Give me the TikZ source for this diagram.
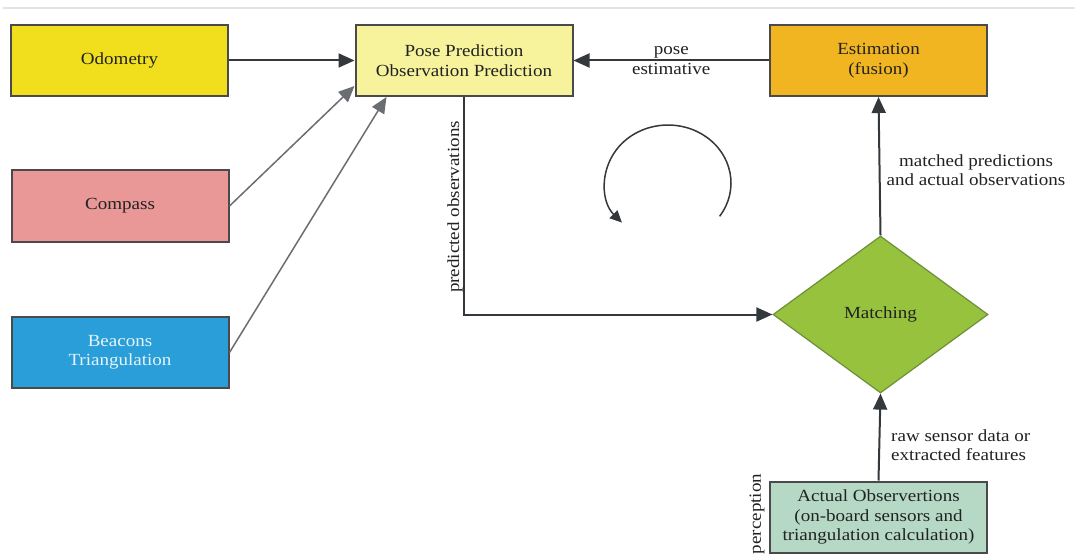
\documentclass[tikz,border=0pt]{standalone}
\usepackage{fontspec}
\setmainfont{Liberation Serif}[FakeStretch=1.12]
\usetikzlibrary{arrows.meta,shapes.geometric}

\definecolor{odo}{HTML}{F1DF1E}
\definecolor{posec}{HTML}{F6F39C}
\definecolor{estc}{HTML}{F0B520}
\definecolor{compc}{HTML}{E99797}
\definecolor{beacc}{HTML}{2A9ED8}
\definecolor{beactxt}{HTML}{E6F3F9}
\definecolor{matchc}{HTML}{97C23E}
\definecolor{matchedge}{HTML}{6E8F3A}
\definecolor{actc}{HTML}{B6D9C5}
\definecolor{edge}{HTML}{4A4A4A}
\definecolor{wire}{HTML}{33383D}
\definecolor{wiretwo}{HTML}{6A6E72}
\definecolor{txt}{HTML}{222222}
\definecolor{rulec}{HTML}{E2E2E2}

\begin{document}
\begin{tikzpicture}[x=1pt,y=-1pt,
  every node/.style={font=\fontsize{17}{19.5}\selectfont, text=txt},
  box/.style={draw=edge, line width=2pt, minimum width=217pt, minimum height=71pt,
              inner sep=0pt, align=center},
  link/.style={draw=wire, line width=2pt, -{Triangle[length=16pt,width=14pt]}},
  feed/.style={draw=wiretwo, line width=1.5pt, -{Triangle[length=16pt,width=14pt]}},
  lbl/.style={align=center, inner sep=0pt}]

\useasboundingbox (0,0) rectangle (1075,556);
\fill[white] (0,0) rectangle (1075,556);
\draw[rulec, line width=1.5pt] (3,8) -- (1075,8);

% blocks
\node[box, fill=odo]   (odo)  at (119.5,60.5) {Odometry};
\node[box, fill=posec] (pose) at (464,60.5)   {Pose Prediction\\Observation Prediction};
\node[box, fill=estc]  (est)  at (878.5,60.5) {Estimation\\(fusion)};
\node[box, fill=compc] (comp) at (120,206)    {Compass};
\node[box, fill=beacc, text=beactxt] (beac) at (120,352.5) {Beacons\\Triangulation};
\node[diamond, draw=matchedge, line width=1.2pt, fill=matchc, minimum width=215pt,
      minimum height=157pt, inner sep=0pt] (match) at (880.5,314.5) {Matching};
\node[box, fill=actc]  (act)  at (878.5,517)  {Actual Observertions\\(on-board sensors and\\triangulation calculation)};

% entry points on the prediction block
\coordinate (pin1) at ([yshift=11pt]pose.south west);
\coordinate (pin2) at ([xshift=32pt]pose.south west);

% connectors
\draw[link] (odo.east) -- (pose.west);
\draw[feed] (comp.east) -- (pin1);
\draw[feed] (beac.east) -- (pin2);
\draw[link] (est.west) -- (pose.east) node[lbl, midway] {pose\\estimative};
\draw[link] (pose.south) |- (match.west);
\draw[link] (match.north) -- (est.south);
\draw[link] (act.north) -- (match.south);

% labels
\node[lbl, rotate=90] (plabel) at (455,207) {predicted observations};
\node[lbl] (mlabel) at (976,170) {matched predictions\\and actual observations};
\node[lbl, align=left, anchor=west] (rlabel) at (891,445) {raw sensor data or\\extracted features};
\node[lbl, rotate=90] (perc) at (757,514) {perception};

% cycle mark
\coordinate (cyc) at (719.6,216.3);
\draw[wire, line width=1.5pt, -{Triangle[length=12pt,width=11pt]}]
  (cyc) arc[start angle=-35, end angle=223, x radius=63pt, y radius=58pt];
\end{tikzpicture}
\end{document}
